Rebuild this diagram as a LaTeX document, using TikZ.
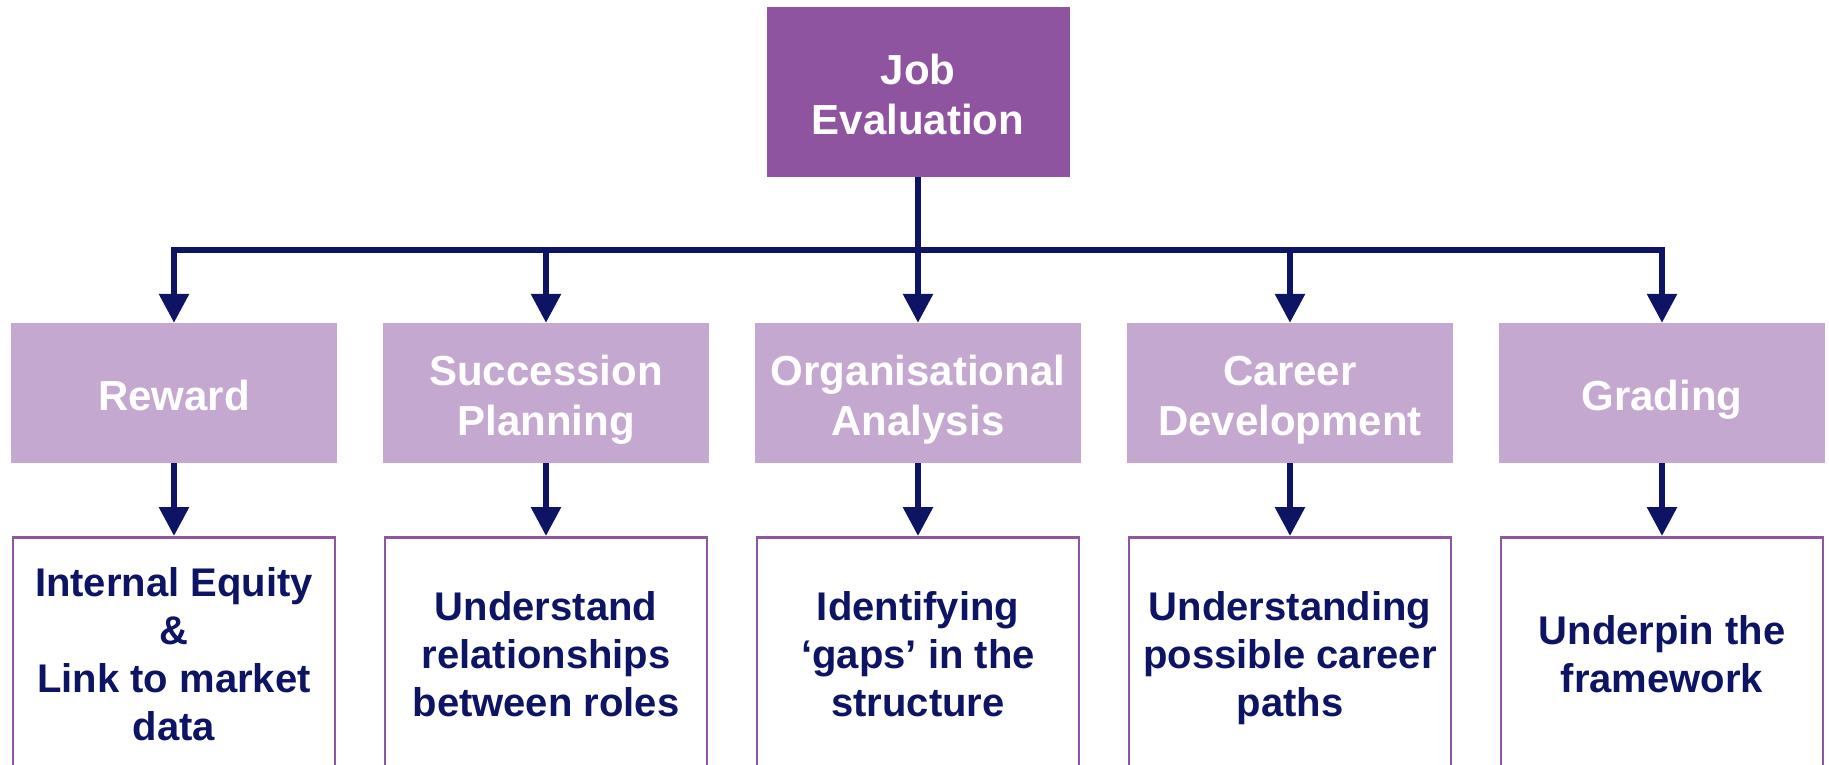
\documentclass[tikz,border=0pt]{standalone}
\usepackage{fontspec}
\setmainfont{Liberation Sans}
\usetikzlibrary{arrows.meta}
\definecolor{topc}{RGB}{142,84,160}
\definecolor{midc}{RGB}{196,168,208}
\definecolor{navy}{RGB}{14,20,100}
\definecolor{boxline}{RGB}{142,85,160}
\newcommand\MyTopS{\rule{0pt}{46pt}}
\newcommand\MyLowTopS{\rule{0pt}{41.6pt}}
\newcommand\MyBotS{\rule[-12pt]{0pt}{12pt}}
\begin{document}
\begin{tikzpicture}[x=1pt,y=-1pt,
  topbox/.style={fill=topc, text=white, font=\bfseries\fontsize{42}{50}\selectfont,
    minimum width=303pt, minimum height=170pt, inner sep=0pt, align=center},
  midbox/.style={fill=midc, text=white, font=\bfseries\fontsize{42}{50}\selectfont,
    minimum width=326pt, minimum height=140pt, inner sep=0pt, align=center},
  lowbox/.style={draw=boxline, line width=2.5pt, fill=white, text=navy,
    font=\bfseries\fontsize{40}{48}\selectfont,
    minimum width=322pt, minimum height=232pt, inner sep=0pt, align=center, anchor=north},
  bus/.style={draw=navy, line width=6pt, line cap=rect},
  conn/.style={draw=navy, line width=6pt, -{Triangle[width=29pt,length=29pt]}}
]
\useasboundingbox (0,0) rectangle (1829,764);
\node[topbox] (job) at (918,92) {\MyTopS Job\\Evaluation\MyBotS};
\node[midbox] (m1) at (174,393) {\MyTopS Reward\MyBotS};
\node[midbox] (m2) at (546,393) {\MyTopS Succession\\Planning\MyBotS};
\node[midbox] (m3) at (918,393) {\MyTopS Organisational\\Analysis\MyBotS};
\node[midbox] (m4) at (1290,393) {\MyTopS Career\\Development\MyBotS};
\node[midbox] (m5) at (1662,393) {\MyTopS Grading\MyBotS};
\node[lowbox] (l1) at (174,536) {\MyLowTopS Internal Equity\\\&\\Link to market\\data\MyBotS};
\node[lowbox] (l2) at (546,536) {\MyLowTopS Understand\\relationships\\between roles\MyBotS};
\node[lowbox] (l3) at (918,536) {\MyLowTopS Identifying\\‘gaps’ in the\\structure\MyBotS};
\node[lowbox] (l4) at (1290,536) {\MyLowTopS Understanding\\possible career\\paths\MyBotS};
\node[lowbox] (l5) at (1662,536) {\MyLowTopS Underpin the\\framework\MyBotS};
\coordinate (busL) at (174,250);
\coordinate (busR) at (1662,250);
\draw[bus] (busL) -- (busR);
\draw[conn] (job.south) -- (m3.north);
\foreach \i in {1,2,4,5} {
  \draw[conn] (m\i.north |- busL) -- (m\i.north);
}
\foreach \i in {1,...,5} {
  \draw[conn] (m\i.south) -- (l\i.north);
}
\end{tikzpicture}
\end{document}
